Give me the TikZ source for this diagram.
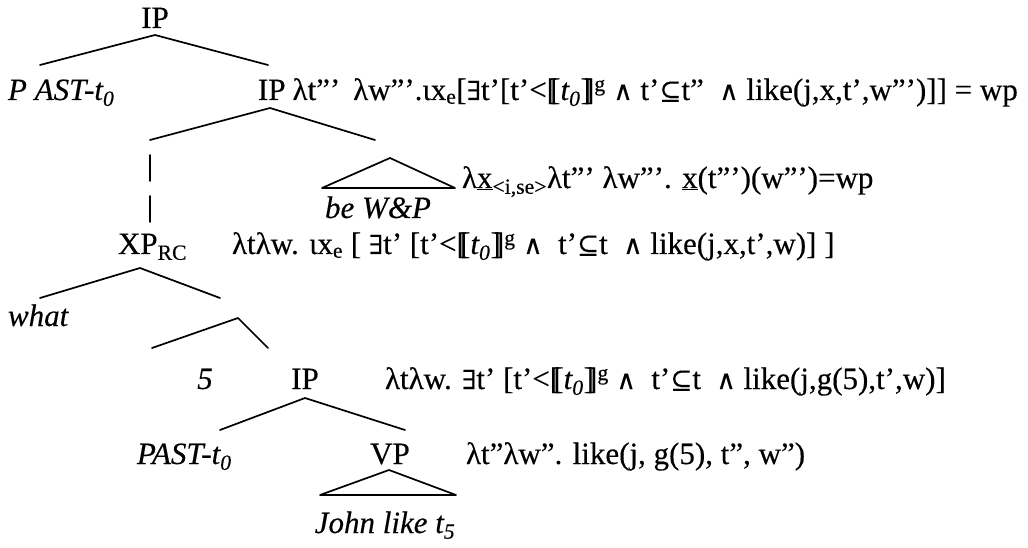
\documentclass[tikz,border=0pt]{standalone}
\usepackage{fontspec}
\setmainfont{Liberation Serif}[FakeBold=0.3]
\newfontfamily\dvs[Scale=0.85,FakeBold=0.3]{DejaVu Serif}
% logic symbols that the serif lacks
\newcommand\dv[1]{{\dvs #1}}
\newcommand\lsem{[\kern-0.22em[}
\newcommand\rsem{]\kern-0.22em]}
\newcommand\tnull{\textit{t\textsubscript{0}}}
\newcommand\den{\lsem\tnull\rsem\textsuperscript{g}}

\begin{document}
\begin{tikzpicture}[x=1pt,y=-1pt,
  every node/.style={inner sep=0pt, outer sep=0pt},
  lbl/.style={font=\fontsize{31}{36}\selectfont, anchor=base west},
  branch/.style={line width=1.7pt, line cap=round, line join=round}]
\useasboundingbox (0,0) rectangle (1028,548);

% ---- top IP
\node[lbl, anchor=base] (ipA) at (155,28) {IP};
\node[lbl] (pastA) at (8,100) {\textit{P\kern0.25em AST-t\textsubscript{0}}};
\node[lbl] (ipB) at (258,100) {IP};
\node[lbl] (semB) at ([xshift=7pt]ipB.base east)
  {λt”’ \,λw”’.ιx\textsubscript{e}[\dv{∃}t’[t’<\den\ \dv{∧} t’\dv{⊆}t” \ \dv{∧} like(j,x,t’,w”’)]] = wp};
\coordinate (ipA-b) at (155,35);
\coordinate (ipA-l) at (40,65);
\coordinate (ipA-r) at (268,65);
\draw[branch] (ipA-l) -- (ipA-b) -- (ipA-r);

% ---- second IP and its daughters
\coordinate (ipB-b) at (270,108);
\coordinate (ipB-l) at (150,140);
\coordinate (ipB-r) at (375,140);
\draw[branch] (ipB-l) -- (ipB-b) -- (ipB-r);

% unary stretch down to XP
\coordinate (bar1-t) at (150,155);
\coordinate (bar1-b) at (150,181);
\coordinate (bar2-t) at (150,196);
\coordinate (bar2-b) at (150,222);
\draw[branch] (bar1-t) -- (bar1-b);
\draw[branch] (bar2-t) -- (bar2-b);

% be W&P triangle
\coordinate (triA-t) at (390,158);
\coordinate (triA-l) at (322,188);
\coordinate (triA-r) at (455,188);
\draw[branch] (triA-t) -- (triA-l) -- (triA-r) -- cycle;
\node[lbl, anchor=base] (bewp) at (378,218) {\textit{be W\&P}};
\node[lbl] (semT) at (462,188)
  {λ\underline{x}\textsubscript{<i,se>}λt”’ λw”’. \underline{x}(t”’)(w”’)=wp};

% ---- XP_RC
\node[lbl] (xp) at (118,254) {XP\textsubscript{RC}};
\node[lbl] (semXP) at (232,254)
  {λtλw. ιx\textsubscript{e} [ \dv{∃}t’ [t’<\den\ \dv{∧}\ \ t’\dv{⊆}t \ \dv{∧} like(j,x,t’,w)] ]};
\coordinate (xp-b) at (140,268);
\coordinate (xp-l) at (40,298);
\coordinate (xp-r) at (220,298);
\draw[branch] (xp-l) -- (xp-b) -- (xp-r);
\node[lbl] (what) at (8,326) {\textit{what}};

% ---- 5 / IP
\coordinate (cb-b) at (238,318);
\coordinate (cb-l) at (152,348);
\coordinate (cb-r) at (268,348);
\draw[branch] (cb-l) -- (cb-b) -- (cb-r);
\node[lbl, anchor=base] (five) at (205,389) {\textit{5}};
\node[lbl, anchor=base] (ipC) at (305,389) {IP};
\node[lbl] (semC) at (385,389)
  {λtλw. \dv{∃}t’ [t’<\den\ \dv{∧}\ \ t’\dv{⊆}t \ \dv{∧} like(j,g(5),t’,w)]};
\coordinate (ipC-b) at (305,398);
\coordinate (ipC-l) at (220,430);
\coordinate (ipC-r) at (405,430);
\draw[branch] (ipC-l) -- (ipC-b) -- (ipC-r);

% ---- PAST / VP
\node[lbl] (pastC) at (137,464) {\textit{PAST-t\textsubscript{0}}};
\node[lbl, anchor=base] (vp) at (390,464) {VP};
\node[lbl] (semVP) at (466,464) {λt”λw”. like(j, g(5), t”, w”)};
\coordinate (triB-t) at (389,470);
\coordinate (triB-l) at (320,495);
\coordinate (triB-r) at (456,495);
\draw[branch] (triB-t) -- (triB-l) -- (triB-r) -- cycle;
\node[lbl, anchor=base] (john) at (385,533) {\textit{John like t\textsubscript{5}}};
\end{tikzpicture}
\end{document}
